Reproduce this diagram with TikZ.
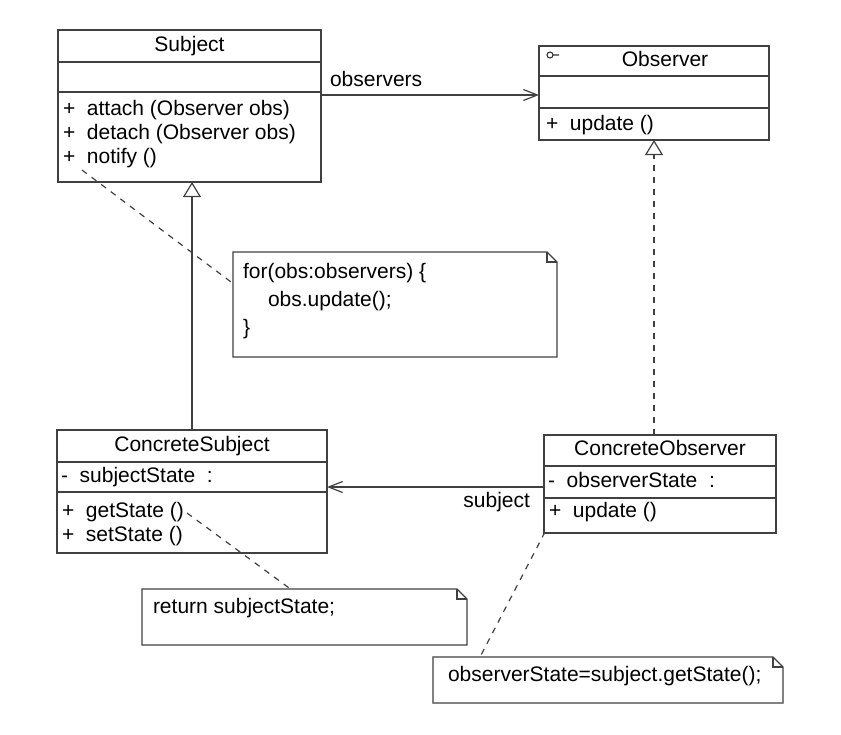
\documentclass[tikz,border=0pt]{standalone}
\usepackage{fontspec}
\setmainfont{Liberation Sans}
\usepackage{xcolor}
\usetikzlibrary{positioning,arrows.meta}

% note outline with folded corner
\newcommand{\notefold}[1]{%
 \draw[umlline] (#1.north west) -- ([xshift=-10pt]#1.north east) -- ([yshift=-10pt]#1.north east) -- (#1.south east) -- (#1.south west) -- cycle;
 \draw[umlline] ([xshift=-10pt]#1.north east) |- ([yshift=-10pt]#1.north east);}

\begin{document}
\begin{tikzpicture}[
 x=1pt, y=-1pt,
 font=\fontsize{21pt}{24pt}\selectfont,
 every node/.style={inner sep=0pt, outer sep=0pt},
 umlline/.style={draw=black!75, line width=1.2pt},
 part/.style={rectangle, umlline},
 namepart/.style={part, align=center, text height=15pt, text depth=4.5pt},
 member/.style={align=left},
 attrtxt/.style={text height=15pt, text depth=4.5pt},
 note/.style={rectangle, draw=none},
 notetxt/.style={align=left, font=\fontsize{21pt}{28pt}\selectfont},
 assoc/.style={umlline, -{Straight Barb[length=14pt, width=11pt]}},
 inherit/.style={umlline, -{Triangle[open, length=15pt, width=18pt, fill=white]}},
 realize/.style={inherit, dash pattern=on 6pt off 6pt},
 notelink/.style={umlline, dash pattern=on 6pt off 6pt}
 ]
 \useasboundingbox (0,0) rectangle (841,734);

 % Subject
 \node[namepart, minimum width=263pt, minimum height=32pt, anchor=north west] (subject) at (58,30) {Subject};
 \node[part, minimum width=263pt, minimum height=30pt, below=0pt of subject] (subjectattr) {};
 \node[part, minimum width=263pt, minimum height=90pt, below=0pt of subjectattr] (subjectops) {};
 \node[member, below right=8pt and 5pt of subjectops.north west] (subjectopstxt) {+\ \ attach (Observer obs)\\+\ \ detach (Observer obs)\\+\ \ notify ()};

 % Observer
 \node[namepart, minimum width=230pt, minimum height=30pt, anchor=north west] (observer) at (539,46) {\hspace*{22pt}Observer};
 \node[part, minimum width=230pt, minimum height=32pt, below=0pt of observer] (observerattr) {};
 \node[part, minimum width=230pt, minimum height=32pt, below=0pt of observerattr] (observerops) {};
 \node[member, below right=7pt and 7pt of observerops.north west] (observeropstxt) {+\ \ update ()};
 \coordinate (iface) at ([xshift=11pt, yshift=-9pt]observer.north west);
 \draw[draw=black!80, line width=1.1pt] (iface) circle[radius=3pt] ++(3,0) -- ++(6,0);

 % ConcreteSubject
 \node[namepart, minimum width=270pt, minimum height=32pt, anchor=north west] (concretesubject) at (57,430) {ConcreteSubject};
 \node[part, minimum width=270pt, minimum height=30pt, below=0pt of concretesubject] (concretesubjectattr) {};
 \node[attrtxt, right=4pt of concretesubjectattr.west] (concretesubjectattrtxt) {-\ \ subjectState\ \ :};
 \node[part, minimum width=270pt, minimum height=61pt, below=0pt of concretesubjectattr] (concretesubjectops) {};
 \node[member, below right=10pt and 5pt of concretesubjectops.north west] (concretesubjectopstxt) {+\ \ getState ()\\+\ \ setState ()};

 % ConcreteObserver
 \node[namepart, minimum width=232pt, minimum height=31pt, anchor=north west] (concreteobserver) at (544,435) {ConcreteObserver};
 \node[part, minimum width=232pt, minimum height=32pt, below=0pt of concreteobserver] (concreteobserverattr) {};
 \node[attrtxt, right=4pt of concreteobserverattr.west] (concreteobserverattrtxt) {-\ \ observerState\ \ :};
 \node[part, minimum width=232pt, minimum height=35pt, below=0pt of concreteobserverattr] (concreteobserverops) {};
 \node[member, below right=4pt and 5pt of concreteobserverops.north west] (concreteobserveropstxt) {+\ \ update ()};

 % Notes
 \node[note, minimum width=324pt, minimum height=105pt, anchor=north west] (notifynote) at (233,252) {};
 \notefold{notifynote}
 \node[notetxt, below right=11pt and 10pt of notifynote.north west] (notifynotetxt) {for(obs:observers) \{\\\hspace*{25pt}obs.update();\\\}};

 \node[note, minimum width=325pt, minimum height=56pt, anchor=north west] (returnnote) at (142,589) {};
 \notefold{returnnote}
 \node[notetxt, below right=9pt and 11pt of returnnote.north west] (returnnotetxt) {return subjectState;};

 \node[note, minimum width=350pt, minimum height=46pt, anchor=north west] (getstatenote) at (433,657) {};
 \notefold{getstatenote}
 \node[notetxt, below right=9pt and 15pt of getstatenote.north west] (getstatenotetxt) {observerState=subject.getState();};

 % Associations
 \coordinate (observersstart) at ([yshift=-3pt]subjectops.north east);
 \draw[assoc] (observersstart) node[above right=8pt and 9pt] (observerslbl) {observers} -- (observersstart -| observerattr.west);
 \coordinate (subjectstart) at ([yshift=-5pt]concreteobserverattr.west);
 \draw[assoc] (subjectstart) node[below left=5pt and 14pt] (subjectlbl) {subject} -- (subjectstart -| concretesubjectattr.east);

 % Generalization and realization
 \draw[inherit] (concretesubject.north) -- (concretesubject.north |- subjectops.south);
 \draw[realize] (observerops.south |- concreteobserver.north) -- (observerops.south);

 % Note links
 \coordinate (notifypt) at (82,170);
 \coordinate (getstatept) at (187,513);
 \coordinate (updatept) at (545,532);
 \draw[notelink] (notifypt) -- ([yshift=21pt]notifynote.west);
 \draw[notelink] (getstatept) -- ([xshift=-14pt]returnnote.north);
 \draw[notelink] (updatept) -- ([xshift=47pt]getstatenote.north west);
\end{tikzpicture}
\end{document}
